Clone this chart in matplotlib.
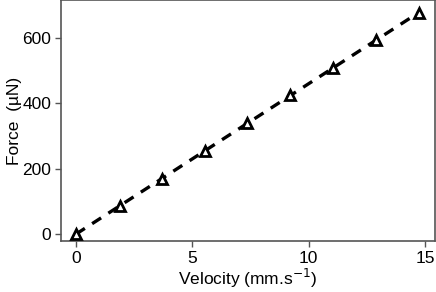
import numpy as np
import matplotlib
matplotlib.use("Agg")
import matplotlib.pyplot as plt

plt.rcParams['font.family'] = ['Liberation Sans', 'DejaVu Sans']

velocity = [0, 1.88, 3.69, 5.53, 7.37, 9.21, 11.06, 12.9, 14.74]
force = [0, 86, 169, 254, 340, 425, 508, 594, 677]

fig = plt.figure(figsize=(4.36, 2.92), dpi=100)
ax = fig.add_axes([61/436, 51/292, 374/436, 241/292])

# linear fit as dashed line
k, b = np.polyfit(velocity, force, 1)
xf = np.array([velocity[0], velocity[-1]])
ax.plot(xf, k*xf + b, '--', color='black', lw=2.4, dashes=(3.2, 2.6), zorder=2)
ax.plot(velocity, force, '^', ms=7.5, mfc='white', mec='black', mew=2, zorder=3)

ax.set_xlim(-0.64, 15.43)
ax.set_ylim(-21, 716)
ax.set_xticks([0, 5, 10, 15])
ax.set_yticks([0, 200, 400, 600])
for s in ax.spines.values():
    s.set_color('#555555')
    s.set_linewidth(1.2)
ax.tick_params(direction='out', length=4, width=1, color='#555555', labelsize=12.5, pad=3)
ax.set_xlabel('Velocity (mm.s$^{-1}$)', fontsize=12.5, labelpad=1)
ax.set_ylabel('Force  (\u00b5N)', fontsize=12.5, labelpad=0)

fig.savefig('out.png', dpi=100)
